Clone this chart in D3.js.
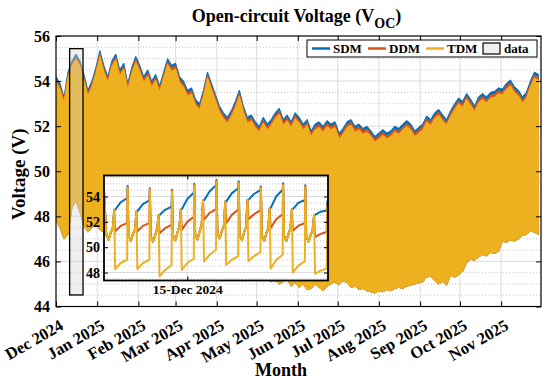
<!DOCTYPE html>
<html>
<head>
<meta charset="utf-8">
<script src="https://cdn.jsdelivr.net/npm/d3@7"></script>
<style>
  body { margin: 0; background: #fff; }
  svg text { font-family: "Liberation Serif", "Times New Roman", serif; font-weight: bold; }
</style>
</head>
<body>
<div id="chart"></div>
<script>
// ---- data ----
const seriesNames = ["SDM", "DDM", "TDM"];
const seriesColors = ["#0072BD", "#D95319", "#EDB120"];
const monthTicks = ["2024-12-01", "2025-01-01", "2025-02-01", "2025-03-01", "2025-04-01", "2025-05-01",
                    "2025-06-01", "2025-07-01", "2025-08-01", "2025-09-01", "2025-10-01", "2025-11-01"];
const yTicks = [44, 46, 48, 50, 52, 54, 56];
const insetYTicks = [48, 50, 52, 54];

// envelopes of the hourly series, one value every 3 days from 1 Dec 2024
const stepDays = 3;
const sdmTop = [54.2, 53.9, 53.3, 54.4, 54.9, 55.2, 54.9, 54.3, 53.6, 54.0,
                54.6, 55.35, 54.7, 54.2, 54.9, 55.2, 54.5, 54.8, 53.9, 54.6,
                55.1, 54.7, 54.2, 54.5, 54.0, 54.3, 53.8, 54.4, 55.0, 54.7,
                54.8, 54.2, 54.0, 53.6, 53.7, 53.2, 53.0, 53.6, 54.4, 53.9,
                53.4, 52.9, 52.6, 52.4, 52.7, 53.1, 53.6, 52.9, 52.4, 52.5,
                52.2, 52.0, 52.4, 52.1, 52.3, 52.6, 52.8, 52.3, 52.5, 52.2,
                52.6, 52.4, 52.1, 52.3, 51.8, 52.1, 52.2, 52.0, 52.25, 52.1,
                52.2, 51.7, 51.9, 52.2, 52.3, 52.0, 52.1, 51.9, 52.0, 51.8,
                51.55, 51.7, 51.85, 51.7, 51.8, 52.0, 51.9, 52.1, 52.25, 52.1,
                51.8, 51.95, 52.1, 52.45, 52.3, 52.6, 52.75, 52.5, 52.3, 52.7,
                53.0, 53.25, 53.1, 53.45, 53.2, 52.9, 53.3, 53.45, 53.3, 53.5,
                53.55, 53.7, 53.65, 53.9, 54.05, 53.75, 53.6, 53.3, 53.5, 54.0,
                54.4, 54.3];
const ddmTop = [54.08, 53.77, 53.18, 54.27, 54.78, 55.07, 54.78, 54.17, 53.48, 53.87,
                54.47, 55.22, 54.57, 54.06, 54.78, 55.06, 54.37, 54.66, 53.77, 54.47,
                54.97, 54.57, 54.07, 54.36, 53.87, 54.17, 53.67, 54.27, 54.86, 54.57,
                54.67, 54.07, 53.86, 53.47, 53.57, 53.07, 52.86, 53.47, 54.27, 53.77,
                53.27, 52.77, 52.47, 52.27, 52.57, 52.97, 53.47, 52.77, 52.27, 52.37,
                52.07, 51.87, 52.27, 51.97, 52.17, 52.47, 52.67, 52.17, 52.37, 52.07,
                52.47, 52.27, 51.97, 52.17, 51.67, 51.97, 52.07, 51.87, 52.12, 51.97,
                52.07, 51.57, 51.77, 52.07, 52.17, 51.87, 51.97, 51.77, 51.87, 51.67,
                51.42, 51.57, 51.72, 51.57, 51.67, 51.87, 51.77, 51.97, 52.12, 51.97,
                51.67, 51.82, 51.97, 52.32, 52.17, 52.47, 52.62, 52.37, 52.17, 52.57,
                52.87, 53.12, 52.97, 53.32, 53.07, 52.77, 53.17, 53.32, 53.17, 53.37,
                53.42, 53.57, 53.52, 53.77, 53.92, 53.62, 53.47, 53.17, 53.37, 53.87,
                54.27, 54.17];
const tdmTop = [53.95, 53.64, 53.05, 54.15, 54.68, 54.96, 54.66, 54.04, 53.35, 53.74,
                54.34, 55.1, 54.44, 53.93, 54.66, 54.94, 54.24, 54.53, 53.64, 54.34,
                54.85, 54.44, 53.94, 54.23, 53.74, 54.04, 53.54, 54.14, 54.74, 54.44,
                54.54, 53.94, 53.73, 53.34, 53.44, 52.94, 52.73, 53.34, 54.14, 53.64,
                53.14, 52.64, 52.34, 52.14, 52.44, 52.84, 53.34, 52.64, 52.14, 52.24,
                51.94, 51.74, 52.14, 51.84, 52.04, 52.34, 52.54, 52.04, 52.24, 51.94,
                52.34, 52.14, 51.84, 52.04, 51.54, 51.84, 51.94, 51.74, 51.99, 51.84,
                51.94, 51.44, 51.64, 51.94, 52.04, 51.74, 51.84, 51.64, 51.74, 51.54,
                51.29, 51.44, 51.59, 51.44, 51.54, 51.74, 51.64, 51.84, 51.99, 51.84,
                51.54, 51.69, 51.84, 52.19, 52.04, 52.34, 52.49, 52.24, 52.04, 52.44,
                52.74, 52.99, 52.84, 53.19, 52.94, 52.64, 53.04, 53.19, 53.04, 53.24,
                53.29, 53.44, 53.39, 53.64, 53.79, 53.49, 53.34, 53.04, 53.24, 53.74,
                54.14, 54.04];
const tdmLow = [47.8, 47.5, 47.0, 47.2, 48.4, 48.7, 48.2, 47.6, 47.3, 47.5,
                47.7, 47.4, 47.3, 47.2, 47.1, 47.1, 47.0, 46.9, 46.9, 46.8,
                46.8, 46.7, 46.6, 46.6, 46.5, 46.4, 46.4, 46.3, 46.3, 46.2,
                46.2, 46.1, 46.0, 46.0, 45.9, 45.9, 45.8, 45.8, 45.7, 45.7,
                45.6, 45.6, 45.5, 45.5, 45.5, 45.4, 45.4, 45.4, 45.3, 45.3,
                45.3, 45.25, 45.3, 45.2, 45.1, 45.15, 45.0, 45.1, 45.2, 44.9,
                45.05, 44.85, 45.0, 44.75, 44.8, 45.0, 44.85, 44.7, 44.9, 45.0,
                45.1, 44.95, 45.15, 45.05, 44.85, 44.9, 44.75, 44.8, 44.7, 44.65,
                44.6, 44.7, 44.65, 44.75, 44.7, 44.8, 44.85, 44.8, 44.9, 44.95,
                45.0, 45.05, 45.1, 45.3, 45.35, 45.15, 45.0, 45.1, 44.95, 45.4,
                45.3, 45.4, 45.55, 45.95, 46.1, 46.05, 46.2, 46.3, 46.25, 46.4,
                46.35, 46.45, 46.9, 46.85, 46.95, 46.9, 47.0, 47.15, 47.2, 47.35,
                47.3, 47.2];

// zoomed window: hours after 11 Dec 2024 00:00
const insetHours = [6, 8.5, 11, 13.5, 15.5, 17, 18, 24,
  31, 31.5, 32.5, 35, 37.5, 39.5, 41, 42, 48,
  55, 55.5, 56.5, 59, 61.5, 63.5, 65, 66, 72,
  79, 79.5, 80.5, 83, 85.5, 87.5, 89, 90, 96,
  103, 103.5, 104.5, 107, 109.5, 111.5, 113, 114, 120,
  127, 127.5, 128.5, 131, 133.5, 135.5, 137, 138, 144,
  151, 151.5, 152.5, 155, 157.5, 159.5, 161, 162, 168,
  175, 175.5, 176.5, 179, 181.5, 183.5, 185, 186, 192,
  199, 199.5, 200.5, 203, 205.5, 207.5, 209, 210, 216,
  223, 223.5, 224.5, 227, 229.5, 231.5, 233, 234, 240,
  246.5, 247.5];
const insetSDM = [54.45, 50.95, 50.6, 51.2, 51.5, 52.95, 52.95, 53.55,
  53.87, 54.84, 50.9, 50.5, 51.1, 51.4, 52.82, 52.82, 53.4,
  53.7, 54.66, 50.85, 50.45, 51.0, 51.5, 52.55, 52.55, 52.95,
  53.2, 54.53, 50.9, 50.55, 51.2, 51.6, 53.0, 53.0, 53.8,
  54.3, 55.0, 51.0, 50.6, 51.3, 51.8, 53.68, 53.68, 54.4,
  54.9, 55.32, 51.1, 50.7, 51.3, 51.7, 53.6, 53.6, 54.25,
  54.66, 55.2, 51.0, 50.55, 51.2, 51.6, 53.74, 53.74, 54.2,
  54.5, 54.8, 50.9, 50.5, 51.1, 51.5, 53.08, 53.08, 54.0,
  54.53, 55.05, 50.9, 50.5, 51.1, 51.5, 53.0, 53.0, 53.5,
  53.74, 54.9, 50.85, 50.45, 51.0, 51.4, 52.55, 52.55, 52.8,
  52.9, 53.7];
const insetDDM = [54.4, 50.95, 50.6, 51.2, 51.5, 52.95, 51.24, 51.68,
  51.9, 54.76, 50.9, 50.5, 51.1, 51.4, 52.82, 51.24, 51.68,
  51.9, 54.6, 50.85, 50.45, 51.0, 51.5, 52.55, 51.1, 51.5,
  51.77, 54.47, 50.9, 50.55, 51.2, 51.6, 53.0, 51.37, 52.0,
  52.4, 54.93, 51.0, 50.6, 51.3, 51.8, 53.68, 52.16, 52.7,
  53.0, 55.25, 51.1, 50.7, 51.3, 51.7, 53.6, 51.9, 52.55,
  52.95, 55.13, 51.0, 50.55, 51.2, 51.6, 53.74, 52.2, 52.6,
  52.9, 54.73, 50.9, 50.5, 51.1, 51.5, 53.08, 51.5, 52.2,
  52.6, 54.98, 50.9, 50.5, 51.1, 51.5, 53.0, 51.3, 51.7,
  51.9, 54.83, 50.85, 50.45, 51.0, 51.4, 52.55, 50.8, 51.05,
  51.2, 53.5];
const insetTDM = [54.35, 50.95, 50.6, 51.2, 51.5, 52.95, 48.27, 48.75,
  49.0, 54.7, 50.9, 50.5, 51.1, 51.4, 52.82, 48.27, 48.75,
  49.0, 54.55, 50.85, 50.45, 51.0, 51.5, 52.55, 47.7, 48.2,
  48.6, 54.4, 50.9, 50.55, 51.2, 51.6, 53.0, 48.2, 48.75,
  49.1, 54.85, 51.0, 50.6, 51.3, 51.8, 53.68, 48.87, 49.4,
  49.8, 55.18, 51.1, 50.7, 51.3, 51.7, 53.6, 48.6, 49.0,
  49.3, 55.05, 51.0, 50.55, 51.2, 51.6, 53.74, 48.9, 49.3,
  49.6, 54.65, 50.9, 50.5, 51.1, 51.5, 53.08, 48.3, 49.0,
  49.4, 54.9, 50.9, 50.5, 51.1, 51.5, 53.0, 48.0, 48.55,
  48.9, 54.75, 50.85, 50.45, 51.0, 51.4, 52.55, 47.9, 48.15,
  48.3, 53.3];
const insetRange = [6, 248];       // hours shown in the zoom panel
const insetLabelHour = 96;         // 15 Dec 2024 00:00

// ---- layout ----
const W = 550, H = 381;
const m = {left: 56, right: 9, top: 36, bottom: 74.5};
const pw = W - m.left - m.right, ph = H - m.top - m.bottom;
const inset = {x: 104, y: 175.5, w: 224, h: 105};
const serif = '"Liberation Serif", "Times New Roman", serif';

const parse = d3.timeParse("%Y-%m-%d");
const t0 = parse("2024-12-01"), t1 = parse("2025-12-01");
const base = parse("2024-12-11");
const dates = sdmTop.map((v, i) => d3.timeDay.offset(t0, i * stepDays));
const hourDate = (h) => new Date(base.getTime() + h * 3600e3);

const svg = d3.select("#chart").append("svg")
  .attr("width", W).attr("height", H);

const x = d3.scaleTime().domain([t0, t1]).range([m.left, m.left + pw]);
const y = d3.scaleLinear().domain([44, 56]).range([m.top + ph, m.top]);

svg.append("clipPath").attr("id", "clipMain")
  .append("rect").attr("x", m.left).attr("y", m.top).attr("width", pw).attr("height", ph);

// grid
const grid = svg.append("g");
grid.selectAll(".minor").data(d3.range(44.5, 56, 0.5).filter(v => v % 2 !== 0))
  .enter().append("line")
  .attr("x1", m.left).attr("x2", m.left + pw)
  .attr("y1", d => y(d)).attr("y2", d => y(d))
  .attr("stroke", "#b8b8b8").attr("stroke-width", 0.8).attr("stroke-dasharray", "1,2");
grid.selectAll(".majorY").data(yTicks.slice(1, -1))
  .enter().append("line")
  .attr("x1", m.left).attr("x2", m.left + pw)
  .attr("y1", d => y(d)).attr("y2", d => y(d))
  .attr("stroke", "#dcdcdc").attr("stroke-width", 1);
grid.selectAll(".majorX").data(monthTicks.slice(1).map(parse))
  .enter().append("line")
  .attr("x1", d => x(d)).attr("x2", d => x(d))
  .attr("y1", m.top).attr("y2", m.top + ph)
  .attr("stroke", "#dcdcdc").attr("stroke-width", 1);

// series envelopes (SDM under DDM under TDM)
const tops = [sdmTop, ddmTop, tdmTop];
const plot = svg.append("g").attr("clip-path", "url(#clipMain)");
tops.forEach((top, k) => {
  const area = d3.area()
    .x((d, i) => x(dates[i]))
    .y0((d, i) => y(tdmLow[i]))
    .y1((d, i) => y(top[i]));
  plot.append("path")
    .datum(top)
    .attr("d", area)
    .attr("fill", seriesColors[k])
    .attr("stroke", seriesColors[k])
    .attr("stroke-width", 1);
});

// highlighted window
const winTop = d3.max(sdmTop), winLow = d3.min(tdmLow);
svg.append("rect")
  .attr("x", x(hourDate(insetRange[0])))
  .attr("y", y(winTop) - 2)
  .attr("width", x(hourDate(insetRange[1])) - x(hourDate(insetRange[0])))
  .attr("height", y(winLow) - y(winTop) + 4)
  .attr("fill", "rgba(210,210,210,0.35)")
  .attr("stroke", "#000").attr("stroke-width", 1.3);

// frame and axes
svg.append("rect").attr("x", m.left).attr("y", m.top).attr("width", pw).attr("height", ph)
  .attr("fill", "none").attr("stroke", "#000").attr("stroke-width", 1.2);

function styleAxis(g, size) {
  g.attr("font-family", null).attr("font-size", null);
  g.select(".domain").remove();
  g.selectAll(".tick line").attr("stroke", "#000");
  g.selectAll("text").attr("fill", "#000").style("font-family", serif).style("font-size", size + "px");
}

const xAxis = svg.append("g")
  .attr("transform", "translate(0," + (m.top + ph) + ")")
  .call(d3.axisBottom(x).tickValues(monthTicks.map(parse)).tickFormat(d3.timeFormat("%b %Y"))
        .tickSizeInner(-5).tickSizeOuter(0));
styleAxis(xAxis, 16.5);
xAxis.selectAll("text")
  .attr("x", 0).attr("y", 0).attr("dy", 0)
  .attr("text-anchor", "end")
  .attr("transform", "translate(8,22) rotate(-30)");

styleAxis(svg.append("g")
  .attr("transform", "translate(0," + m.top + ")")
  .call(d3.axisTop(x).tickValues(monthTicks.map(parse)).tickFormat("").tickSizeInner(-5).tickSizeOuter(0)), 15);

styleAxis(svg.append("g")
  .attr("transform", "translate(" + m.left + ",0)")
  .call(d3.axisLeft(y).tickValues(yTicks).tickSizeInner(-5).tickSizeOuter(0).tickPadding(6)), 16);

styleAxis(svg.append("g")
  .attr("transform", "translate(" + (m.left + pw) + ",0)")
  .call(d3.axisRight(y).tickValues(yTicks).tickFormat("").tickSizeInner(-5).tickSizeOuter(0)), 15);

// titles
const title = svg.append("text")
  .attr("x", m.left + pw / 2 - 2).attr("y", 22)
  .attr("text-anchor", "middle").style("font-size", "18px");
title.append("tspan").text("Open-circuit Voltage (V");
title.append("tspan").attr("dy", 6).style("font-size", "14px").text("OC");
title.append("tspan").attr("dy", -6).text(")");

svg.append("text")
  .attr("transform", "translate(25," + (m.top + ph / 2 + 3) + ") rotate(-90)")
  .attr("text-anchor", "middle").style("font-size", "19px")
  .text("Voltage (V)");

svg.append("text")
  .attr("x", 281).attr("y", 376)
  .attr("text-anchor", "middle").style("font-size", "18px")
  .text("Month");

// legend
const legend = svg.append("g").attr("transform", "translate(307,40)");
legend.append("rect").attr("width", 230).attr("height", 17)
  .attr("fill", "#fff").attr("stroke", "#000").attr("stroke-width", 1);
const legendX = [5, 61, 119];
seriesNames.forEach((name, k) => {
  const g = legend.append("g").attr("transform", "translate(" + legendX[k] + ",0)");
  g.append("line").attr("x1", 0).attr("x2", 18).attr("y1", 8.5).attr("y2", 8.5)
    .attr("stroke", seriesColors[k]).attr("stroke-width", 2.5);
  g.append("text").attr("x", 21).attr("y", 13).style("font-size", "13px").text(name);
});
legend.append("rect").attr("x", 176).attr("y", 3).attr("width", 17).attr("height", 11)
  .attr("fill", "#efefef").attr("stroke", "#000").attr("stroke-width", 1.2);
legend.append("text").attr("x", 197).attr("y", 13).style("font-size", "13px").text("data");

// ---- zoom panel ----
const ix = d3.scaleTime().domain(insetRange.map(hourDate)).range([inset.x, inset.x + inset.w]);
const iy = d3.scaleLinear().domain([47.37, 55.66]).range([inset.y + inset.h, inset.y]);

svg.append("clipPath").attr("id", "clipInset")
  .append("rect").attr("x", inset.x).attr("y", inset.y).attr("width", inset.w).attr("height", inset.h);

const ig = svg.append("g");
ig.append("rect").attr("x", inset.x).attr("y", inset.y).attr("width", inset.w).attr("height", inset.h)
  .attr("fill", "#fff");
ig.selectAll(".iminor").data(d3.range(47.5, 55.6, 0.5).filter(v => v % 2 !== 0))
  .enter().append("line")
  .attr("x1", inset.x).attr("x2", inset.x + inset.w)
  .attr("y1", d => iy(d)).attr("y2", d => iy(d))
  .attr("stroke", "#b8b8b8").attr("stroke-width", 0.8).attr("stroke-dasharray", "1,2");
ig.selectAll(".imajor").data(insetYTicks)
  .enter().append("line")
  .attr("x1", inset.x).attr("x2", inset.x + inset.w)
  .attr("y1", d => iy(d)).attr("y2", d => iy(d))
  .attr("stroke", "#dcdcdc").attr("stroke-width", 1);
ig.append("line")
  .attr("x1", ix(hourDate(insetLabelHour))).attr("x2", ix(hourDate(insetLabelHour)))
  .attr("y1", inset.y).attr("y2", inset.y + inset.h)
  .attr("stroke", "#dcdcdc").attr("stroke-width", 1);

const insetSeries = [insetSDM, insetDDM, insetTDM];
const iline = d3.line().x((d, i) => ix(hourDate(insetHours[i]))).y(d => iy(d));
const ilines = ig.append("g").attr("clip-path", "url(#clipInset)");
insetSeries.forEach((s, k) => {
  ilines.append("path").datum(s)
    .attr("d", iline)
    .attr("fill", "none")
    .attr("stroke", seriesColors[k])
    .attr("stroke-width", 2)
    .attr("stroke-linejoin", "round");
});

ig.append("rect").attr("x", inset.x).attr("y", inset.y).attr("width", inset.w).attr("height", inset.h)
  .attr("fill", "none").attr("stroke", "#000").attr("stroke-width", 1.8);

styleAxis(ig.append("g")
  .attr("transform", "translate(" + inset.x + ",0)")
  .call(d3.axisLeft(iy).tickValues(insetYTicks).tickSizeInner(-4).tickSizeOuter(0).tickPadding(4)), 14);
styleAxis(ig.append("g")
  .attr("transform", "translate(" + (inset.x + inset.w) + ",0)")
  .call(d3.axisRight(iy).tickValues(insetYTicks).tickFormat("").tickSizeInner(-4).tickSizeOuter(0)), 13);
styleAxis(ig.append("g")
  .attr("transform", "translate(0," + (inset.y + inset.h) + ")")
  .call(d3.axisBottom(ix).tickValues([hourDate(insetLabelHour)])
        .tickFormat(d3.timeFormat("%d-%b %Y")).tickSizeInner(-4).tickSizeOuter(0).tickPadding(4)), 13.5);
styleAxis(ig.append("g")
  .attr("transform", "translate(0," + inset.y + ")")
  .call(d3.axisTop(ix).tickValues([hourDate(insetLabelHour)]).tickFormat("").tickSizeInner(-4).tickSizeOuter(0)), 13);
</script>
</body>
</html>
